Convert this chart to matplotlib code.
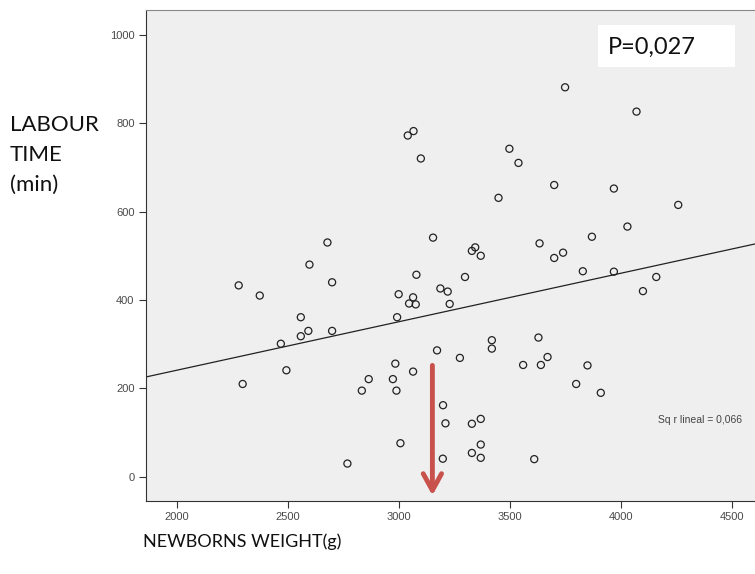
import matplotlib
matplotlib.use("Agg")
import matplotlib.pyplot as plt
from matplotlib.patches import Rectangle

# newborn weight (g) vs labour time (min)
weight = [3040, 3066, 3099, 3154, 2678, 2597, 3079, 2699, 3749, 4071,
          3498, 3539, 3700, 3969, 3449, 4259, 4030, 3870, 3634, 3344,
          3329, 3369, 3740, 3700, 3829, 3969, 3298, 4160, 2278, 2373,
          2999, 3064, 3046, 3076, 3187, 3220, 3229, 2558, 2992, 2592,
          2558, 2699, 2468, 2493, 2296, 3172, 3275, 2984, 3064, 2864,
          2973, 2833, 2989, 3199, 3210, 3007, 3198, 2768, 4100, 3419,
          3419, 3629, 3560, 3640, 3670, 3850, 3799, 3910, 3329, 3369,
          3369, 3329, 3369, 3610]
labour = [772, 782, 720, 541, 530, 480, 457, 440, 881, 826,
          742, 710, 660, 652, 631, 615, 566, 543, 528, 519,
          511, 500, 507, 495, 465, 464, 452, 452, 433, 410,
          413, 406, 392, 390, 426, 419, 391, 361, 361, 330,
          318, 330, 301, 241, 210, 286, 269, 256, 238, 221,
          221, 195, 195, 162, 121, 76, 41, 30, 420, 309,
          290, 315, 253, 253, 271, 252, 210, 190, 120, 131,
          73, 54, 43, 40]

# linear fit shown on the chart
fit_intercept = 22.0
fit_slope = 0.1096

x_ticks = [2000, 2500, 3000, 3500, 4000, 4500]
y_ticks = [0, 200, 400, 600, 800, 1000]
x_range = (1859, 4605)
y_range = (-54, 1056)

arrow_x = 3151
arrow_top = 252
arrow_tip = -42

fig = plt.figure(figsize=(7.55, 5.74), dpi=100)
ax = fig.add_axes([0.193, 0.1277, 0.807, 0.855])
ax.set_facecolor("#efefef")

ax.scatter(weight, labour, s=26, facecolors="none", edgecolors="#222222",
           linewidths=0.9, zorder=3)

ax.plot(list(x_range), [fit_intercept + fit_slope * v for v in x_range],
        color="#222222", lw=0.9, zorder=2)

ax.annotate("", xy=(arrow_x, arrow_tip), xytext=(arrow_x, arrow_top),
            arrowprops=dict(arrowstyle="->,head_length=0.6,head_width=0.33",
                            color="#c9514c", lw=3.5, mutation_scale=20,
                            shrinkA=0, shrinkB=0),
            zorder=4)

ax.set_xlim(*x_range)
ax.set_ylim(*y_range)
ax.set_xticks(x_ticks)
ax.set_yticks(y_ticks)
ax.tick_params(direction="out", length=5, width=0.8, color="#333333",
               labelsize=8, labelcolor="#4a4a4a", pad=3)
for lab in ax.get_xticklabels() + ax.get_yticklabels():
    lab.set_family("Liberation Sans")

ax.spines["right"].set_visible(False)
ax.spines["top"].set_color("#888888")
ax.spines["left"].set_color("#333333")
ax.spines["bottom"].set_color("#333333")

ax.text(0.84, 0.165, "Sq r lineal = 0,066", transform=ax.transAxes,
        fontsize=7.5, color="#444444", family="Liberation Sans",
        ha="left", va="center")

# white box behind the p-value
fig.patches.append(Rectangle((0.792, 0.8833), 0.1815, 0.0732,
                             transform=fig.transFigure, fc="white",
                             ec="none", zorder=5))
fig.text(0.805, 0.918, "P=0,027", fontsize=17, family="Lato",
         color="#111111", ha="left", va="center", zorder=6)

fig.text(0.013, 0.73, "LABOUR\nTIME\n(min)", fontsize=16, family="Lato",
         color="#111111", ha="left", va="center", linespacing=1.62)

fig.text(0.19, 0.057, "NEWBORNS WEIGHT(g)", fontsize=13, family="Lato",
         color="#111111", ha="left", va="center")

fig.savefig("out.png", dpi=100)
